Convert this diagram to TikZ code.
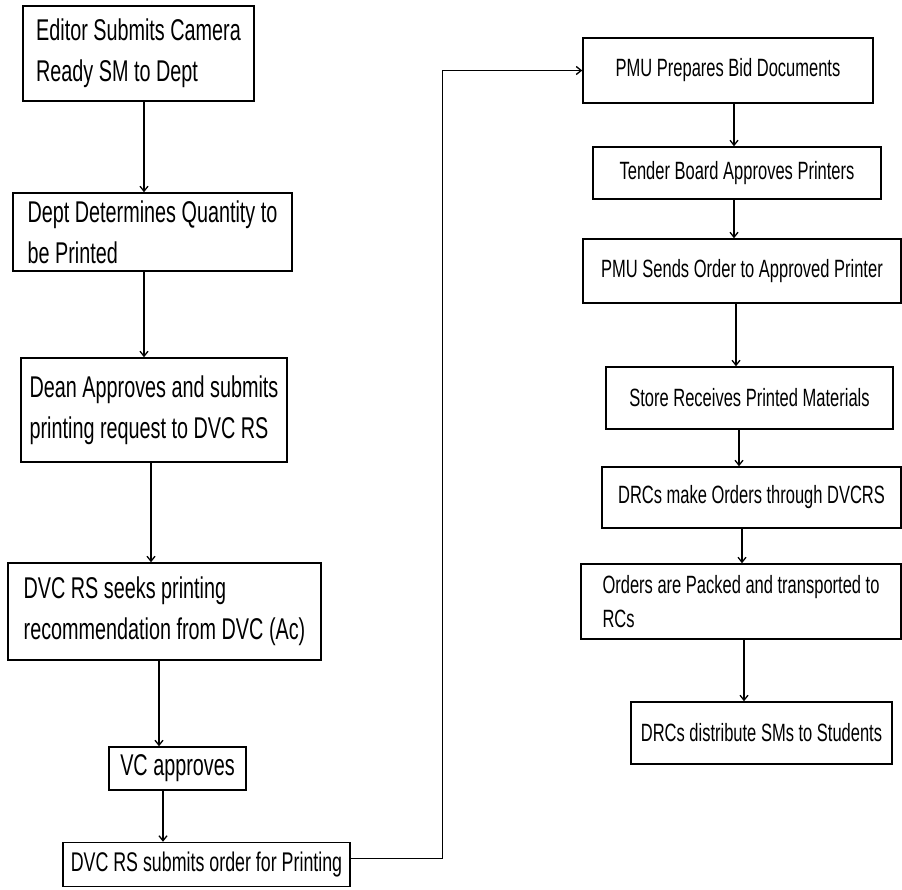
\documentclass[tikz,border=0pt]{standalone}
\usepackage{fontspec}
\setmainfont{Liberation Sans}[FakeStretch=0.66]
\usetikzlibrary{arrows.meta,positioning,calc}

\tikzset{
  stepbox/.style={draw,line width=1.5pt,inner sep=0pt,align=left},
  leftbox/.style={stepbox,font=\fontsize{30}{41}\selectfont},
  rightbox/.style={stepbox,align=center,font=\fontsize{25}{34}\selectfont},
  flow/.style={line width=1.3pt,-{Straight Barb[length=5pt,width=8pt]}}
}

\begin{document}
\begin{tikzpicture}[x=1pt,y=-1pt]
    \useasboundingbox (0,0) rectangle (902,890);
    % left column
    \node[leftbox,minimum width=231,minimum height=95] (ed) at (138.5,53.5){Editor Submits Camera\\Ready SM to Dept};
    \node[leftbox,minimum width=279,minimum height=78] (dept) at (152.5,232){Dept Determines Quantity to\\be Printed};
    \node[leftbox,minimum width=266,minimum height=104] (dean) at (154,410){Dean Approves and submits\\printing request to DVC RS};
    \node[leftbox,minimum width=313,minimum height=97] (seek) at (164.5,611.5){DVC RS seeks printing\\recommendation from DVC (Ac)};
    \node[leftbox,minimum width=137,minimum height=43] (vc) at (177.5,768.5){VC approves};
    \node[rightbox,font=\fontsize{27}{34}\selectfont,minimum width=287,minimum height=44] (order) at (206.5,864.5){DVC RS submits order for Printing};
    % right column
    \node[rightbox,minimum width=290,minimum height=65] (bid) at (728,70.5){PMU Prepares Bid Documents};
    \node[rightbox,minimum width=288,minimum height=52] (tender) at (737,173){Tender Board Approves Printers};
    \node[rightbox,minimum width=318,minimum height=64] (send) at (742,271){PMU Sends Order to Approved Printer};
    \node[rightbox,minimum width=287,minimum height=62] (store) at (749.5,398){Store Receives Printed Materials};
    \node[rightbox,minimum width=299,minimum height=61] (drcs) at (751.5,497.5){DRCs make Orders through DVCRS};
    \node[rightbox,align=left,minimum width=320,minimum height=75] (pack) at (741,601.5){Orders are Packed and transported to\\RCs};
    \node[rightbox,minimum width=261,minimum height=62] (dist) at (761.5,733){DRCs distribute SMs to Students};

    % connectors
    \draw[flow] ([xshift=5.5pt]ed.south) -- ([xshift=5.5pt]ed.south |- dept.north);
    \draw[flow] ([xshift=-8.5pt]dept.south) -- ([xshift=-8.5pt]dept.south |- dean.north);
    \draw[flow] ([xshift=-3pt]dean.south) -- ([xshift=-3pt]dean.south |- seek.north);
    \draw[flow] ([xshift=-5.5pt]seek.south) -- ([xshift=-5.5pt]seek.south |- vc.north);
    \draw[flow] ([xshift=-14.5pt]vc.south) -- ([xshift=-14.5pt]vc.south |- order.north);
    \draw[flow] ([yshift=6pt]order.east) -- ++(92,0) |- (bid.west);
    \draw[flow] ([xshift=6pt]bid.south) -- ([xshift=6pt]bid.south |- tender.north);
    \draw[flow] ([xshift=-3pt]tender.south) -- ([xshift=-3pt]tender.south |- send.north);
    \draw[flow] ([xshift=-6pt]send.south) -- ([xshift=-6pt]send.south |- store.north);
    \draw[flow] ([xshift=-10.5pt]store.south) -- ([xshift=-10.5pt]store.south |- drcs.north);
    \draw[flow] ([xshift=-9.5pt]drcs.south) -- ([xshift=-9.5pt]drcs.south |- pack.north);
    \draw[flow] ([xshift=3pt]pack.south) -- ([xshift=3pt]pack.south |- dist.north);
  \end{tikzpicture}
\end{document}
